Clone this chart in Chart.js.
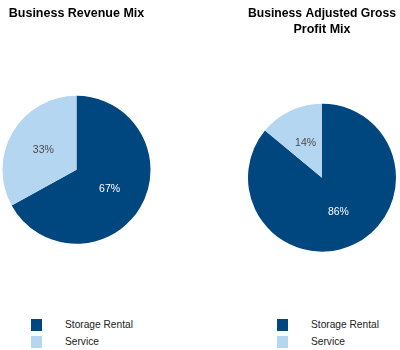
<!DOCTYPE html>
<html>
<head>
<meta charset="utf-8">
<script src="https://cdn.jsdelivr.net/npm/chart.js@4.4.0/dist/chart.umd.min.js"></script>
<style>
  html, body { margin: 0; padding: 0; background: #fff; width: 400px; height: 350px; overflow: hidden; }
  body { position: relative; font-family: "Liberation Sans", Arial, sans-serif; }
  .cv { position: absolute; }
  .legend { position: absolute; font-size: 10.2px; color: #222; }
  .legend .item { position: absolute; white-space: nowrap; height: 12px; }
  .legend .box { position: absolute; left: 0; top: 0; width: 11px; height: 12px; }
  .legend .txt { position: absolute; top: -1px; line-height: 14px; }
</style>
</head>
<body>
<div class="cv" style="left:0px;top:0px;width:153px;height:244px;"><canvas id="c1" width="153" height="244"></canvas></div>
<div class="cv" style="left:244px;top:0px;width:156px;height:252px;"><canvas id="c2" width="156" height="252"></canvas></div>
<div class="legend" id="lg1" style="left:31px;top:319px;"></div>
<div class="legend" id="lg2" style="left:277px;top:319px;"></div>
<script>
// ---- data ----
const categories = ["Storage Rental", "Service"];
const revenueMix = [67, 33];
const grossProfitMix = [86, 14];
const titles = [["Business Revenue Mix"], ["Business Adjusted Gross", "Profit Mix"]];
const colors = ["#00467F", "#B5D6F1"];
const labelColors = ["#ffffff", "#4a4a4a"];

const sliceLabels = {
  id: 'sliceLabels',
  afterDatasetsDraw(chart) {
    const ctx = chart.ctx;
    const meta = chart.getDatasetMeta(0);
    const ds = chart.data.datasets[0];
    ctx.save();
    ctx.font = '10.5px "Liberation Sans", Arial, sans-serif';
    ctx.textAlign = 'center';
    ctx.textBaseline = 'middle';
    meta.data.forEach((arc, i) => {
      const p = arc.getProps(['x', 'y', 'startAngle', 'endAngle', 'outerRadius'], true);
      const mid = (p.startAngle + p.endAngle) / 2;
      const r = p.outerRadius * 0.52;
      ctx.fillStyle = labelColors[i];
      ctx.fillText(ds.data[i] + '%', p.x + Math.cos(mid) * r, p.y + Math.sin(mid) * r);
    });
    ctx.restore();
  }
};

function makePie(id, values, title, titleBottom, padLR) {
  return new Chart(document.getElementById(id), {
    type: 'pie',
    data: {
      labels: categories,
      datasets: [{ data: values, backgroundColor: colors, borderWidth: 0, hoverOffset: 0 }]
    },
    options: {
      responsive: false,
      animation: false,
      events: [],
      layout: { padding: { left: padLR, right: padLR, top: 0, bottom: 0 } },
      plugins: {
        legend: { display: false },
        tooltip: { enabled: false },
        title: {
          display: true,
          text: title,
          color: '#000',
          font: { family: '"Liberation Sans", Arial, sans-serif', size: 12.5, weight: 'bold', lineHeight: '16px' },
          padding: { top: 6, bottom: titleBottom }
        }
      }
    },
    plugins: [sliceLabels]
  });
}

makePie('c1', revenueMix, titles[0], 73.5, 2.5);
makePie('c2', grossProfitMix, titles[1], 65.3, 4);

function makeLegend(id) {
  const el = document.getElementById(id);
  categories.forEach((c, i) => {
    const it = document.createElement('div');
    it.className = 'item';
    it.style.top = (i * 17) + 'px';
    it.innerHTML = '<span class="box" style="background:' + colors[i] + '"></span><span class="txt" style="left:34px">' + c + '</span>';
    el.appendChild(it);
  });
}
makeLegend('lg1');
makeLegend('lg2');
</script>
</body>
</html>
